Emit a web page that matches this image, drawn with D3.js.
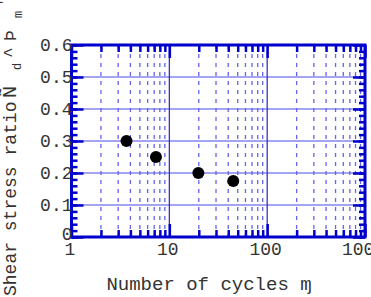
<!DOCTYPE html>
<html>
<head>
<meta charset="utf-8">
<script src="https://cdn.jsdelivr.net/npm/d3@7"></script>
<style>
  body { margin: 0; background: #fff; }
  svg { display: block; }
  text { font-family: "Liberation Mono", "DejaVu Sans Mono", monospace; fill: #333; }
</style>
</head>
<body>
<svg id="chart" width="371" height="297"></svg>
<script>
// data
var cycles = [3.65, 7.3, 19.8, 45];
var ratio = [0.30, 0.25, 0.20, 0.175];

var xTicks = [1, 10, 100, 1000];
var xTickLabels = ["1", "10", "100", "1000"];
var yTicks = [0, 0.1, 0.2, 0.3, 0.4, 0.5, 0.6];
var yTickLabels = ["0", "0.1", "0.2", "0.3", "0.4", "0.5", "0.6"];

var svg = d3.select("#chart");
var blue = "#0000cc";

var x = d3.scaleLog().domain([1, 1000]).range([71.5, 365]);
var y = d3.scaleLinear().domain([0, 0.6]).range([237, 45]);

var xMinor = [];
[1, 10, 100].forEach(function(d) {
    for (var k = 2; k <= 9; k++) xMinor.push(d * k);
});
var yMinor = d3.range(0, 61, 2).map(function(v) { return v / 100; });

// grid
var grid = svg.append("g");
grid.selectAll(".hgrid")
    .data(yTicks.slice(1, -1))
    .enter().append("line")
    .attr("x1", x(1)).attr("x2", x(1000))
    .attr("y1", function(d) { return y(d); })
    .attr("y2", function(d) { return y(d); })
    .attr("stroke", "#4a4ae8").attr("stroke-width", 1.2);

grid.selectAll(".vminor")
    .data(xMinor)
    .enter().append("line")
    .attr("x1", function(d) { return x(d); })
    .attr("x2", function(d) { return x(d); })
    .attr("y1", y(0.6)).attr("y2", y(0))
    .attr("stroke", "#6464f0").attr("stroke-width", 1.3)
    .attr("stroke-dasharray", "4,5");

grid.selectAll(".vmajor")
    .data([10, 100])
    .enter().append("line")
    .attr("x1", function(d) { return x(d); })
    .attr("x2", function(d) { return x(d); })
    .attr("y1", y(0.6)).attr("y2", y(0))
    .attr("stroke", "#2222cc").attr("stroke-width", 1.2);

// inward ticks on all four sides
function tickAxis(axis, vals, size, tx, ty) {
    var g = svg.append("g")
        .attr("transform", "translate(" + tx + "," + ty + ")")
        .call(axis.tickValues(vals).tickSize(size).tickSizeOuter(0).tickFormat(""));
    g.select(".domain").remove();
    g.selectAll(".tick line").attr("stroke", blue).attr("stroke-width", 2.5);
    return g;
}
tickAxis(d3.axisLeft(y), yMinor, -6, x(1), 0);
tickAxis(d3.axisLeft(y), yTicks, -12, x(1), 0);
tickAxis(d3.axisRight(y), yMinor, -6, x(1000), 0);
tickAxis(d3.axisRight(y), yTicks, -12, x(1000), 0);
tickAxis(d3.axisBottom(x), xMinor, -7, 0, y(0));
tickAxis(d3.axisBottom(x), xTicks, -13, 0, y(0));
tickAxis(d3.axisTop(x), xMinor, -7, 0, y(0.6));
tickAxis(d3.axisTop(x), xTicks, -13, 0, y(0.6));

// frame
svg.append("rect")
    .attr("x", x(1)).attr("y", y(0.6))
    .attr("width", x(1000) - x(1)).attr("height", y(0) - y(0.6))
    .attr("fill", "none").attr("stroke", blue).attr("stroke-width", 3);

// tick labels
var yl = svg.append("g")
    .attr("transform", "translate(" + (x(1) + 1) + ",0)")
    .call(d3.axisLeft(y).tickValues(yTicks).tickSize(0).tickPadding(0)
        .tickFormat(function(d, i) { return yTickLabels[i]; }));
yl.select(".domain").remove();
yl.selectAll("text").style("font-size", "18px").attr("dy", "0.33em")
    .style("font-family", "'Liberation Mono', monospace").attr("fill", "#333");
yl.selectAll("text").filter(function(d) { return d === 0; }).attr("dy", "0.15em");

var xl = svg.append("g")
    .attr("transform", "translate(-2," + (y(0) + 5) + ")")
    .call(d3.axisBottom(x).tickValues(xTicks).tickSize(0).tickPadding(0)
        .tickFormat(function(d, i) { return xTickLabels[i]; }));
xl.select(".domain").remove();
xl.selectAll("text").style("font-size", "18px")
    .style("font-family", "'Liberation Mono', monospace").attr("fill", "#333");

// points
svg.selectAll(".pt")
    .data(cycles)
    .enter().append("circle")
    .attr("cx", function(d) { return x(d); })
    .attr("cy", function(d, i) { return y(ratio[i]); })
    .attr("r", 6)
    .attr("fill", "#000");

// axis titles
svg.append("text")
    .attr("x", 209).attr("y", 290)
    .attr("text-anchor", "middle")
    .style("font-size", "19px")
    .text("Number of cycles ɱ");

var yt = svg.append("text")
    .attr("transform", "translate(16,296) rotate(-90)")
    .attr("text-anchor", "start")
    .style("font-size", "18px");
yt.append("tspan").attr("x", 0).text("Shear stress ratio");
yt.append("tspan").attr("x", 198).style("font-size", "20px").text("Ñ");
yt.append("tspan").attr("x", 226).attr("dy", 5).style("font-size", "12px").text("d");
yt.append("tspan").attr("x", 238).attr("dy", -5).text("^");
yt.append("tspan").attr("x", 255).text("Þ");
yt.append("tspan").attr("x", 278).attr("dy", 6).style("font-size", "12px").text("m");
yt.append("tspan").attr("x", 290).attr("dy", -14).style("font-size", "12px").text("'");
</script>
</body>
</html>
